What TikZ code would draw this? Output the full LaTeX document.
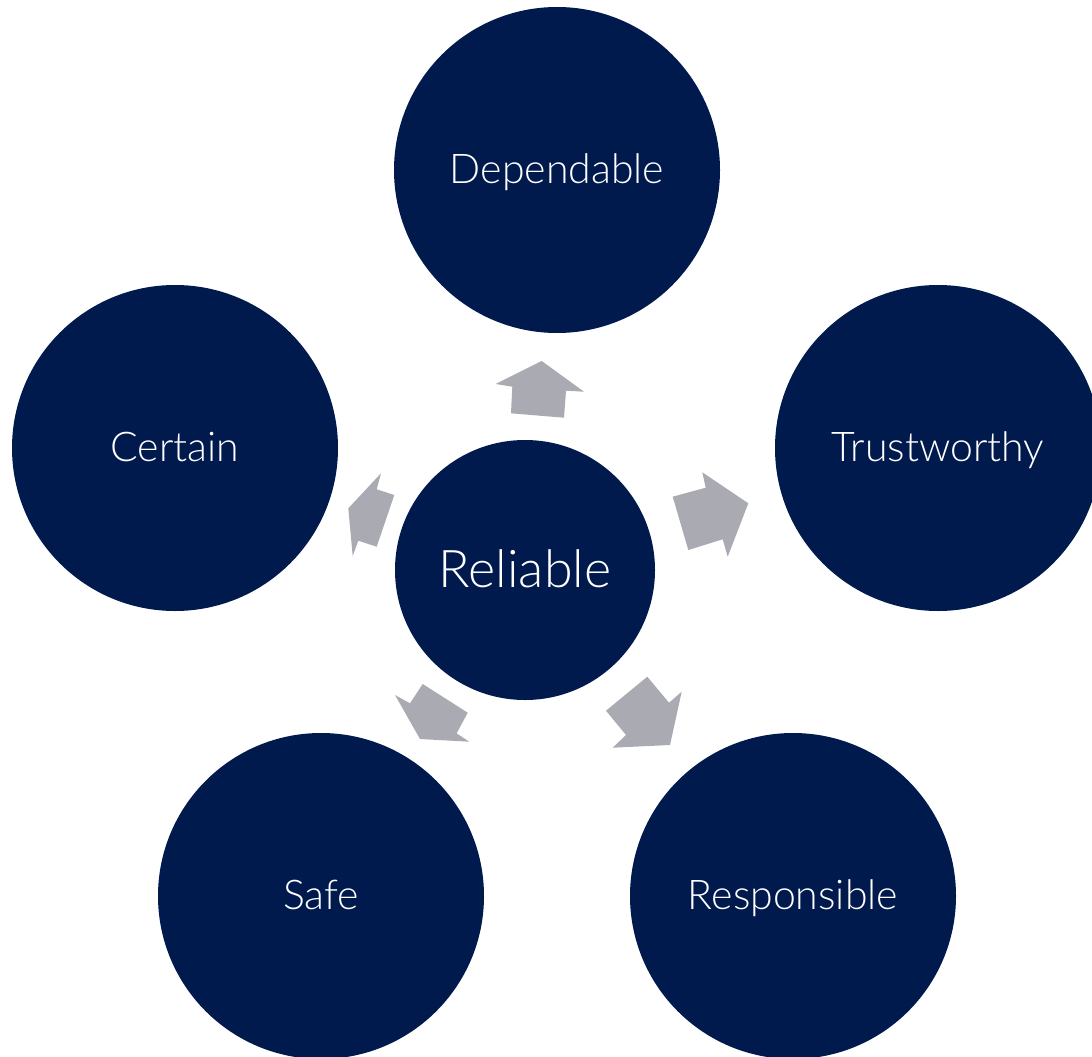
\documentclass[tikz,border=0pt]{standalone}
\usepackage{fontspec}
\setmainfont{Lato}[UprightFont={* Light}]
\definecolor{navy}{HTML}{001A4E}
\definecolor{arrowgray}{HTML}{A9AAB2}
\tikzset{
  bubble/.style={circle, fill=navy, text=white, minimum size=326pt, inner sep=0pt, text depth=2pt, font=\fontsize{41}{48}\selectfont},
  hub/.style={circle, fill=navy, text=white, minimum size=260pt, inner sep=0pt, text depth=2pt, font=\fontsize{52}{60}\selectfont},
  blockarrow/.style={fill=arrowgray}
}
\begin{document}
\begin{tikzpicture}[x=1pt,y=-1pt]
\useasboundingbox (0,0) rectangle (1092,1057);
\fill[white] (0,0) rectangle (1092,1057);
\clip (0,0) rectangle (1092,1057);
\node[bubble] (dep) at (557,170) {Dependable};
\node[bubble] (tru) at (938,448) {Trustworthy};
\node[bubble] (res) at (793,896) {Responsible};
\node[bubble] (saf) at (321,896) {Safe};
\node[bubble] (cer) at (175,448) {Certain};
\node[hub] (rel) at (525,570) {Reliable};
% block arrows
\fill[blockarrow] (541.7,361) -- (584,391.7) -- (566,390.7) -- (564,417.7) -- (511,413.3) -- (512.3,386.7) -- (495.7,384) -- cycle;
\fill[blockarrow] (702.3,472.3) -- (748.3,503.3) -- (727.7,556.7) -- (722.7,539.3) -- (688.3,550) -- (672.7,496.7) -- (705.7,487.7) -- cycle;
\fill[blockarrow] (606,710.7) -- (647.3,676.7) -- (669,702.7) -- (681.7,691.7) -- (670,745) -- (612.7,747.7) -- (626,735) -- cycle;
\fill[blockarrow] (395,695) -- (410,703.3) -- (422.7,684) -- (467.7,712.7) -- (456.7,733.3) -- (469.3,741.7) -- (420,739) -- cycle;
\fill[blockarrow] (381,473.3) -- (376.7,489.3) -- (394.3,495) -- (376.7,546.7) -- (358.3,540.7) -- (352.7,556) -- (348.3,508.3) -- cycle;
\end{tikzpicture}
\end{document}
